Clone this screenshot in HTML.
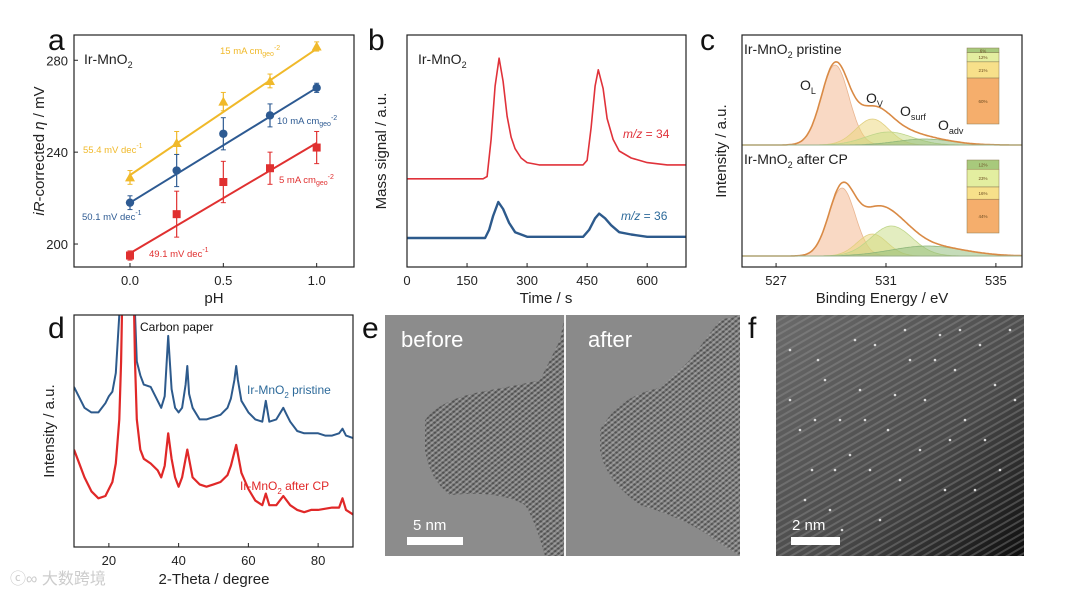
<!DOCTYPE html>
<html><head><meta charset="utf-8"><style>
html,body{margin:0;padding:0;background:#fff;}
svg{display:block;font-family:"Liberation Sans","Noto Sans CJK SC",sans-serif;}
</style></head><body>
<svg id="fig" width="1080" height="598" viewBox="0 0 1080 598" xmlns="http://www.w3.org/2000/svg">
<defs>
<pattern id="lat1" width="4" height="4" patternUnits="userSpaceOnUse" patternTransform="rotate(35)"><rect width="4" height="2" fill="#333" opacity="0.5"/></pattern>
<pattern id="lat2" width="4" height="4" patternUnits="userSpaceOnUse" patternTransform="rotate(-40)"><rect width="4" height="2" fill="#eee" opacity="0.35"/></pattern>
<pattern id="latf" width="6" height="6" patternUnits="userSpaceOnUse" patternTransform="rotate(-30)"><rect width="6" height="2" fill="#999" opacity="0.35"/></pattern>
<linearGradient id="fgrad" x1="0" y1="0" x2="1" y2="1"><stop offset="0" stop-color="#6a6a6a"/><stop offset="0.6" stop-color="#4a4a4a"/><stop offset="1" stop-color="#0e0e0e"/></linearGradient>
<clipPath id="clipA"><rect x="74" y="35" width="280" height="232"/></clipPath>
<clipPath id="clipB"><rect x="407" y="35" width="279" height="232"/></clipPath>
<clipPath id="clipC"><rect x="742" y="35" width="280" height="232"/></clipPath>
<clipPath id="clipD"><rect x="74" y="315" width="279" height="232"/></clipPath>
</defs>
<g id="layer"></g>
</svg>
<script>
// ---------- Panel a data ----------
const phValues=[0,0.25,0.5,0.75,1.0];
const eta15=[229,244,262,271,286];
const eta10=[218,232,248,256,268];
const eta5=[195,213,227,233,242];
const err15=[3,5,4,3,2];
const err10=[3,7,7,5,2];
const err5=[2,10,9,7,7];
const fit15=[230,285];
const fit10=[218,268];
const fit5=[196,244];
const aYTicks=[200,240,280];
const aXTicks=[0.0,0.5,1.0];
// ---------- Panel b data ----------
const timeRed=[0,190,200,210,220,230,240,250,260,270,285,300,330,360,400,440,450,460,470,478,490,500,515,530,560,600,650,697];
const signal34=[38,38,39,55,78,90,80,65,56,51,47,45,44,44,44,44,46,60,78,85,77,64,55,50,47,45,44,44];
const timeBlue=[0,195,205,215,228,240,255,270,300,400,440,455,470,480,495,510,530,560,600,697];
const signal36=[12.5,12.5,16,22,28,25,19,15,13,13,13,16,21,23,21,18,15,14,13,13];
const bXTicks=[0,150,300,450,600];
// ---------- Panel c data ----------
const cComponents=["OL","OV","Osurf","Oadv"];
const pristineCenter=[529.15,530.5,531.1,532.4];
const pristineHeight=[80,26,13,6];
const pristineSigma=[0.5,0.6,0.85,1.0];
const afterCenter=[529.4,530.5,531.2,532.5];
const afterHeight=[68,22,30,10];
const afterSigma=[0.48,0.55,0.75,1.3];
const pristineShare=[60,21,12,6];
const afterShare=[44,16,23,12];
const cXTicks=[527,531,535];
// ---------- Panel d data ----------
const thetaBlue=[10,13,15,17,19,20,21,22,23,24,27,28,29,30,32,33,35,36,37,38,39,40,41,42,42.5,43,44,46,48,50,52,54,55,56,56.5,57,58,60,62,64,65,66,68,70,71,72,74,76,78,80,82,84,86,87,88,90];
const intBlue=[69,60,58,58,62,65,67,75,100,120,120,80,74,70,69,66,60,65,91,68,60,58,60,70,78,66,60,55,55,56,57,60,64,72,78,72,63,58,55,54,63,54,55,60,57,54,50,49,49,49,48,48,49,51,48,47];
const thetaRed=[10,11,13,15,17,19,21,22,23,23.5,24,27,27.5,28,29,30,32,34,35,36,37,38,39,40,41,42.5,44,46,48,50,52,54,55,56.5,58,60,62,64,65,66,68,70,72,74,76,78,80,84,86,87,88,90];
const intRed=[42,38,30,24,21,22,28,36,55,80,120,120,80,55,42,38,36,33,30,35,49,38,30,26,30,42,30,27,26,27,28,31,35,44,32,25,20,18,23,18,18,22,18,16,15,16,16,17,17,21,16,14];
const dXTicks=[20,40,60,80];

const NS="http://www.w3.org/2000/svg";
const layer=document.getElementById('layer');
function mk(tag,attrs,parent){const e=document.createElementNS(NS,tag);for(const k in attrs)e.setAttribute(k,attrs[k]);(parent||layer).appendChild(e);return e;}
function txt(x,y,s,size,fill,anchor,parent){const t=mk('text',{x:x,y:y,'font-size':size,fill:fill||'#111','text-anchor':anchor||'start'},parent);t.innerHTML=s;return t;}
function lin(d0,d1,r0,r1){return v=>r0+(v-d0)/(d1-d0)*(r1-r0);}
function box(x,y,w,h,name){const r=mk('rect',{x:x,y:y,width:w,height:h,fill:'none',stroke:'#222','stroke-width':1.2});return r;}
function pathFrom(xs,ys,sx,sy){return xs.map((v,i)=>(i?'L':'M')+sx(v).toFixed(1)+','+sy(ys[i]).toFixed(1)).join('');}

// ===== Panel a =====
{
const g=mk('g',{});
const sx=lin(-0.3,1.2,74,354), sy=lin(190,291,267,35);
box(74,35,280,232,'panel-a-plot-area');
const L=txt(48,50,'a',30,'#111');
aYTicks.forEach(v=>{mk('line',{x1:74,x2:78,y1:sy(v),y2:sy(v),stroke:'#222'},g);const t=txt(68,sy(v)+5,v,13,'#222','end',g);});
aXTicks.forEach(v=>{mk('line',{x1:sx(v),x2:sx(v),y1:267,y2:263,stroke:'#222'},g);const t=txt(sx(v),285,v.toFixed(1),13,'#222','middle',g);});
const xt=txt(214,303,'pH',15,'#222','middle',g);
const yt=mk('text',{x:0,y:0,'font-size':15,fill:'#222','text-anchor':'middle',transform:'translate(44,151) rotate(-90)'},g);yt.innerHTML='<tspan font-style="italic">iR</tspan>-corrected <tspan font-style="italic">η</tspan> / mV';
const ti=txt(84,64,'Ir-MnO<tspan font-size="9" dy="4">2</tspan>',14,'#222','start',g);
const series=[[eta15,err15,fit15,'#f0b92a','tri','15'],[eta10,err10,fit10,'#2d5a92','circ','10'],[eta5,err5,fit5,'#e03030','sq','5']];
series.forEach(([vals,errs,fit,col,shape,nm])=>{
  const fl=mk('line',{x1:sx(0),y1:sy(fit[0]),x2:sx(1),y2:sy(fit[1]),stroke:col,'stroke-width':2},g);
  
  vals.forEach((v,i)=>{
    const x=sx(phValues[i]),y=sy(v),e=errs[i];
    mk('line',{x1:x,x2:x,y1:sy(v+e),y2:sy(v-e),stroke:col,'stroke-width':1.2},g);
    mk('line',{x1:x-2.5,x2:x+2.5,y1:sy(v+e),y2:sy(v+e),stroke:col},g);
    mk('line',{x1:x-2.5,x2:x+2.5,y1:sy(v-e),y2:sy(v-e),stroke:col},g);
    let m;
    if(shape==='tri')m=mk('polygon',{points:`${x},${y-5} ${x-5},${y+4} ${x+5},${y+4}`,fill:col},g);
    else if(shape==='circ')m=mk('circle',{cx:x,cy:y,r:4.2,fill:col},g);
    else m=mk('rect',{x:x-4,y:y-4,width:8,height:8,fill:col},g);
    
  });
});
const lab=[[220,54,'15 mA cm<tspan font-size="7" dy="2">geo</tspan><tspan font-size="7" dy="-6">-2</tspan>','#f0b92a'],[277,124,'10 mA cm<tspan font-size="7" dy="2">geo</tspan><tspan font-size="7" dy="-6">-2</tspan>','#2d5a92'],[279,183,'5 mA cm<tspan font-size="7" dy="2">geo</tspan><tspan font-size="7" dy="-6">-2</tspan>','#e03030'],[83,153,'55.4 mV dec<tspan font-size="7" dy="-5">-1</tspan>','#f0b92a'],[82,220,'50.1 mV dec<tspan font-size="7" dy="-5">-1</tspan>','#2d5a92'],[149,257,'49.1 mV dec<tspan font-size="7" dy="-5">-1</tspan>','#e03030']];
lab.forEach(l=>{const t=txt(l[0],l[1],l[2],9.5,l[3],'start',g);});
}

// ===== Panel b =====
{
const g=mk('g',{});
const sx=lin(0,697,407,686), sy=lin(0,100,267,35);
box(407,35,279,232,'panel-b-plot-area');
const L=txt(368,50,'b',30,'#111');
bXTicks.forEach(v=>{mk('line',{x1:sx(v),x2:sx(v),y1:267,y2:263,stroke:'#222'},g);const t=txt(sx(v),285,v,13,'#222','middle',g);});
const xt=txt(546,303,'Time / s',15,'#222','middle',g);
const yt=mk('text',{x:0,y:0,'font-size':15,fill:'#222','text-anchor':'middle',transform:'translate(386,151) rotate(-90)'},g);yt.textContent='Mass signal / a.u.';
const ti=txt(418,64,'Ir-MnO<tspan font-size="9" dy="4">2</tspan>',14,'#222','start',g);
const cg=mk('g',{'clip-path':'url(#clipB)'},g);
const p1=mk('path',{d:pathFrom(timeRed,signal34,sx,sy),fill:'none',stroke:'#e0323a','stroke-width':1.6,'stroke-linejoin':'round'},cg);
const p2=mk('path',{d:pathFrom(timeBlue,signal36,sx,sy),fill:'none',stroke:'#2d5a8c','stroke-width':2.4,'stroke-linejoin':'round'},cg);
const a1=txt(623,138,'<tspan font-style="italic">m/z</tspan> = 34',12,'#e0323a','start',g);
const a2=txt(621,220,'<tspan font-style="italic">m/z</tspan> = 36',12,'#2d6a9a','start',g);
}

// ===== Panel c =====
{
const g=mk('g',{});
const sx=lin(525.76,535.95,742,1022);
box(742,35,280,232,'panel-c-plot-area');
const L=txt(700,50,'c',30,'#111');
cXTicks.forEach(v=>{mk('line',{x1:sx(v),x2:sx(v),y1:267,y2:263,stroke:'#222'},g);const t=txt(sx(v),285,v,13,'#222','middle',g);});
const xt=txt(882,303,'Binding Energy / eV',15,'#222','middle',g);
const yt=mk('text',{x:0,y:0,'font-size':15,fill:'#222','text-anchor':'middle',transform:'translate(726,151) rotate(-90)'},g);yt.textContent='Intensity / a.u.';
const fills=['rgba(242,170,125,0.45)','rgba(236,214,120,0.5)','rgba(200,220,130,0.5)','rgba(140,185,115,0.5)'];
const edges=['#e9b590','#e0cf80','#bfd58a','#8fb67a'];
const cg=mk('g',{'clip-path':'url(#clipC)'},g);
function spectrum(centers,heights,sigmas,base,nm){
  const es=[];for(let e=525.76;e<=535.96;e+=0.05)es.push(e);
  centers.forEach((c,k)=>{
    let d='M'+sx(es[0])+','+base;
    es.forEach(e=>{d+='L'+sx(e).toFixed(1)+','+(base-heights[k]*Math.exp(-((e-c)**2)/(2*sigmas[k]**2))).toFixed(1);});
    d+='L'+sx(es[es.length-1])+','+base+'Z';
    const p=mk('path',{d:d,fill:fills[k],stroke:edges[k],'stroke-width':0.8},cg);
    
  });
  let d='';es.forEach((e,i)=>{let s=0;centers.forEach((c,k)=>{s+=heights[k]*Math.exp(-((e-c)**2)/(2*sigmas[k]**2));});d+=(i?'L':'M')+sx(e).toFixed(1)+','+(base-s).toFixed(1);});
  const env=mk('path',{d:d,fill:'none',stroke:'#d98a45','stroke-width':1.6},cg);
  
  mk('line',{x1:742,x2:1022,y1:base,y2:base,stroke:'#9ab08a','stroke-width':1},cg);
}
spectrum(pristineCenter,pristineHeight,pristineSigma,145,'pristine');
spectrum(afterCenter,afterHeight,afterSigma,256,'after-cp');
const t1=txt(744,54,'Ir-MnO<tspan font-size="9" dy="4">2</tspan><tspan dy="-4"> pristine</tspan>',14,'#222','start',g);
const t2=txt(744,164,'Ir-MnO<tspan font-size="9" dy="4">2</tspan><tspan dy="-4"> after CP</tspan>',14,'#222','start',g);
[[800,90,'O','L'],[866,103,'O','V'],[900,116,'O','surf'],[938,130,'O','adv']].forEach(a=>{const t=txt(a[0],a[1],a[2]+'<tspan font-size="9" dy="4">'+a[3]+'</tspan>',14,'#222','start',g);});
const barCols=['#f5ae6c','#f7e08a','#e3eea0','#a8c97c'];
function stack(shares,top,h,nm){
  const tot=shares.reduce((a,b)=>a+b,0);let y=top+h;
  shares.forEach((s,k)=>{const hh=s/tot*h;y-=hh;const r=mk('rect',{x:967,y:y,width:32,height:hh,fill:barCols[k],stroke:'#8a7a50','stroke-width':0.5},g);txt(983,y+hh/2+2,s+'%',4.5,'#6a4a20','middle',g);});
}
stack(pristineShare,48,76,'pristine');
stack(afterShare,160,73,'after-cp');
}

// ===== Panel d =====
{
const g=mk('g',{});
const sx=lin(10,90,74,353), sy=lin(0,100,547,315);
box(74,315,279,232,'panel-d-plot-area');
const L=txt(48,338,'d',30,'#111');
dXTicks.forEach(v=>{mk('line',{x1:sx(v),x2:sx(v),y1:547,y2:543,stroke:'#222'},g);const t=txt(sx(v),565,v,13,'#222','middle',g);});
const xt=txt(214,584,'2-Theta / degree',15,'#222','middle',g);
const yt=mk('text',{x:0,y:0,'font-size':15,fill:'#222','text-anchor':'middle',transform:'translate(54,431) rotate(-90)'},g);yt.textContent='Intensity / a.u.';
const cg=mk('g',{'clip-path':'url(#clipD)'},g);
const p1=mk('path',{d:pathFrom(thetaBlue,intBlue,sx,sy),fill:'none',stroke:'#2d5a8c','stroke-width':2,'stroke-linejoin':'round'},cg);
const p2=mk('path',{d:pathFrom(thetaRed,intRed,sx,sy),fill:'none',stroke:'#e02828','stroke-width':2.2,'stroke-linejoin':'round'},cg);
const c1=txt(140,331,'Carbon paper',12,'#111','start',g);
const c2=txt(247,394,'Ir-MnO<tspan font-size="8" dy="4">2</tspan><tspan dy="-4"> pristine</tspan>',12,'#2d6a9a','start',g);
const c3=txt(240,490,'Ir-MnO<tspan font-size="8" dy="4">2</tspan><tspan dy="-4"> after CP</tspan>',12,'#e02828','start',g);
const wm=txt(10,584,'<tspan fill="#ccc">ⓒ∞ 大数跨境</tspan>',16,'#ccc','start',g);
}

// ===== Panel e (TEM) =====
{
const g=mk('g',{});
const L=txt(362,338,'e',30,'#111');
const b=mk('rect',{x:385,y:315,width:179,height:241,fill:'#8c8c8c'},g);
const a=mk('rect',{x:566,y:315,width:174,height:241,fill:'#8a8a8a'},g);
const pb='M425,420 Q440,400 480,392 Q520,385 540,380 L560,340 L564,320 L564,556 L545,556 Q535,520 525,505 Q500,490 450,495 Q430,480 425,450 Z';
mk('path',{d:pb,fill:'#6e6e6e'},g);mk('path',{d:pb,fill:'url(#lat1)'},g);mk('path',{d:pb,fill:'url(#lat2)'},g);
const pa='M600,430 Q620,395 660,388 L690,360 L720,320 L740,315 L740,556 L715,540 Q690,520 640,505 Q605,480 600,450 Z';
mk('path',{d:pa,fill:'#727272'},g);mk('path',{d:pa,fill:'url(#lat1)'},g);mk('path',{d:pa,fill:'url(#lat2)'},g);
mk('line',{x1:565,x2:565,y1:315,y2:556,stroke:'#f4f4f4','stroke-width':2},g);
const t1=txt(401,347,'before',22,'#fff');
const t2=txt(588,347,'after',22,'#fff');
const t3=txt(413,530,'5 nm',15,'#fff');
const sb=mk('rect',{x:407,y:537,width:56,height:8,fill:'#fff'},g);
}

// ===== Panel f (STEM) =====
{
const g=mk('g',{});
const L=txt(748,338,'f',30,'#111');
const r=mk('rect',{x:776,y:315,width:248,height:241,fill:'url(#fgrad)'},g);
mk('rect',{x:776,y:315,width:248,height:241,fill:'url(#latf)'},g);
const dots=[[790,400],[800,430],[812,470],[825,380],[840,420],[850,455],[860,390],[875,345],[888,430],[900,480],[910,360],[925,400],[940,335],[955,370],[965,420],[980,345],[995,385],[1010,330],[805,500],[830,510],[855,340],[870,470],[895,395],[920,450],[945,490],[985,440],[818,360],[842,530],[880,520],[1000,470],[960,330],[935,360],[905,330],[1015,400],[790,350],[815,420],[835,470],[865,420],[950,440],[975,490]];
dots.forEach(d=>mk('circle',{cx:d[0],cy:d[1],r:1.3,fill:'#ddd'},g));
const t3=txt(792,530,'2 nm',15,'#fff');
const sb=mk('rect',{x:791,y:537,width:49,height:8,fill:'#fff'},g);
}
</script>
</body></html>
